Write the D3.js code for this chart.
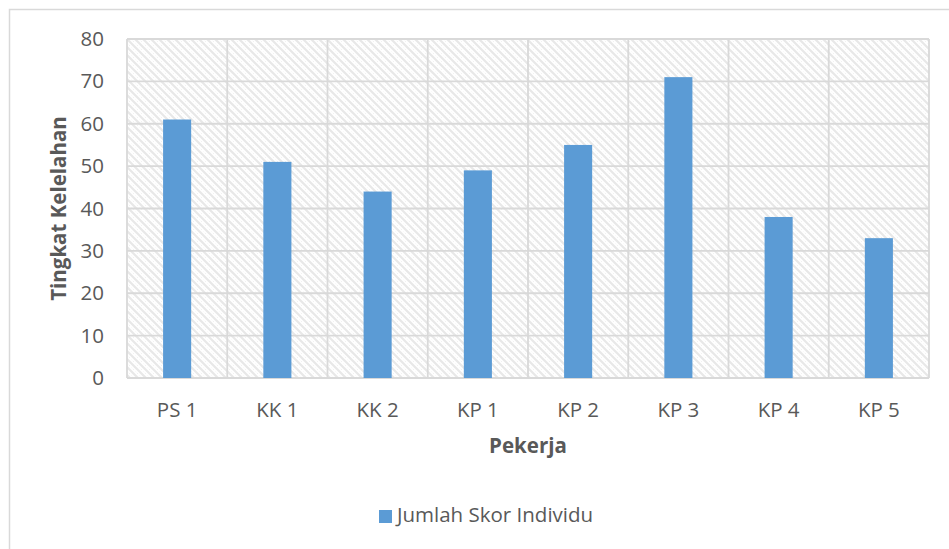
<!DOCTYPE html>
<html>
<head>
<meta charset="utf-8">
<script src="https://cdn.jsdelivr.net/npm/d3@7"></script>
<style>
  html, body { margin: 0; padding: 0; background: #fff; }
  svg { display: block; }
  text { font-family: "Open Sans", Lato, sans-serif; fill: #595959; }
</style>
</head>
<body>
<svg id="chart" width="949" height="549"></svg>
<script>
// Worker fatigue scores
const categories = ["PS 1", "KK 1", "KK 2", "KP 1", "KP 2", "KP 3", "KP 4", "KP 5"];
const scores = [61, 51, 44, 49, 55, 71, 38, 33];
const yTicks = [0, 10, 20, 30, 40, 50, 60, 70, 80];
const seriesName = "Jumlah Skor Individu";
const xTitle = "Pekerja";
const yTitle = "Tingkat Kelelahan";

const svg = d3.select("#chart");
const W = 949, H = 549;
const plot = { left: 127, top: 39, right: 929, bottom: 378 };
const FONT = "'Open Sans', Lato, sans-serif";
const FS = "20.5px";

// Outer chart border (only top and left edges fall inside the view)
svg.append("rect")
  .attr("x", 9.5).attr("y", 9.5)
  .attr("width", W + 20).attr("height", H + 20)
  .attr("fill", "#fff").attr("stroke", "#d9d9d9").attr("stroke-width", 1.5);

// Diagonal hatch fill for the plot area
const defs = svg.append("defs");
const pat = defs.append("pattern")
  .attr("id", "hatch").attr("patternUnits", "userSpaceOnUse")
  .attr("width", 8).attr("height", 8);
pat.append("rect").attr("width", 8).attr("height", 8).attr("fill", "#fff");
pat.append("path")
  .attr("d", "M-2,-2 L10,10 M-2,6 L2,10 M6,-2 L10,2")
  .attr("stroke", "#e8e8e8").attr("stroke-width", 2.2);
pat.append("path")
  .attr("d", "M2,-2 L10,6 M-2,2 L6,10")
  .attr("stroke", "#f0f0f0").attr("stroke-width", 1)
  .attr("stroke-dasharray", "1.5,2.5");

const x = d3.scaleBand().domain(categories)
  .range([plot.left, plot.right]).paddingInner(0).paddingOuter(0);
const y = d3.scaleLinear().domain([0, 80]).range([plot.bottom, plot.top]);

svg.append("rect")
  .attr("x", plot.left).attr("y", plot.top)
  .attr("width", plot.right - plot.left).attr("height", plot.bottom - plot.top)
  .attr("fill", "url(#hatch)");

// Horizontal gridlines
svg.append("g").selectAll("line").data(yTicks).join("line")
  .attr("x1", plot.left).attr("x2", plot.right)
  .attr("y1", d => y(d)).attr("y2", d => y(d))
  .attr("stroke", "#d9d9d9").attr("stroke-width", 1.8);

// Vertical gridlines at category boundaries
const bounds = categories.map(c => x(c)).concat([x(categories[categories.length - 1]) + x.bandwidth()]);
svg.append("g").selectAll("line").data(bounds).join("line")
  .attr("x1", d => d).attr("x2", d => d)
  .attr("y1", plot.top).attr("y2", plot.bottom)
  .attr("stroke", "#d9d9d9").attr("stroke-width", 1.8);

// Bars
const barW = x.bandwidth() * 0.28;
svg.append("g").selectAll("rect").data(scores).join("rect")
  .attr("x", (d, i) => x(categories[i]) + x.bandwidth() / 2 - barW / 2)
  .attr("y", d => y(d))
  .attr("width", barW)
  .attr("height", d => y(0) - y(d))
  .attr("fill", "#5b9bd5");

// Y axis labels
const yAxis = d3.axisLeft(y).tickValues(yTicks).tickSize(0).tickPadding(23);
const gy = svg.append("g").attr("transform", `translate(${plot.left},0)`).call(yAxis);
gy.select(".domain").remove();
gy.selectAll("text").style("font-size", FS).attr("fill", "#595959")
  .style("font-family", FONT);

// X axis labels
const xAxis = d3.axisBottom(x).tickSize(0).tickPadding(24);
const gx = svg.append("g").attr("transform", `translate(0,${plot.bottom})`).call(xAxis);
gx.select(".domain").remove();
gx.selectAll("text").style("font-size", FS).attr("fill", "#595959")
  .style("font-family", FONT);

// Axis titles
svg.append("text")
  .attr("x", (plot.left + plot.right) / 2).attr("y", 453)
  .attr("text-anchor", "middle")
  .style("font-size", FS).style("font-weight", "bold")
  .text(xTitle);

svg.append("text")
  .attr("transform", `translate(66,${(plot.top + plot.bottom) / 2}) rotate(-90)`)
  .attr("text-anchor", "middle")
  .style("font-size", FS).style("font-weight", "bold")
  .text(yTitle);

// Legend
const lg = svg.append("g");
lg.append("rect").attr("x", 379).attr("y", 510).attr("width", 13).attr("height", 13).attr("fill", "#5b9bd5");
lg.append("text").attr("x", 397).attr("y", 522)
  .style("font-size", FS).text(seriesName);
</script>
</body>
</html>
